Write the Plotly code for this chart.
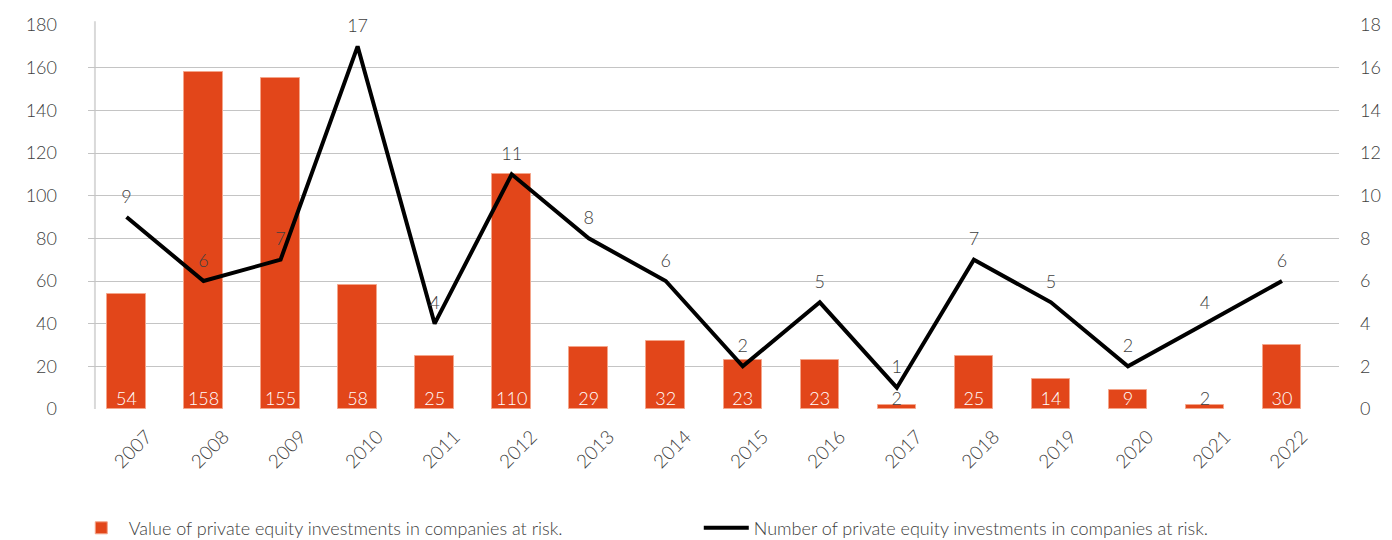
import plotly.graph_objects as go

years = ["2007", "2008", "2009", "2010", "2011", "2012", "2013", "2014",
         "2015", "2016", "2017", "2018", "2019", "2020", "2021", "2022"]
value_at_risk = [54, 158, 155, 58, 25, 110, 29, 32, 23, 23, 2, 25, 14, 9, 2, 30]
count_at_risk = [9, 6, 7, 17, 4, 11, 8, 6, 2, 5, 1, 7, 5, 2, 4, 6]

left_ticks = [0, 20, 40, 60, 80, 100, 120, 140, 160, 180]
right_ticks = [0, 2, 4, 6, 8, 10, 12, 14, 16, 18]

BAR = "#E2461A"
TEXT = "#404040"
FONT = "Lato"

x_idx = list(range(len(years)))

fig = go.Figure()

fig.add_trace(go.Bar(
    x=x_idx, y=value_at_risk, width=0.5,
    marker=dict(color=BAR, line=dict(color="#F4A58A", width=1)),
    name="Value of private equity investments in companies at risk.",
    hoverinfo="skip",
))

# value labels sitting at the bar base: white inside tall bars, dark above tiny ones
fig.add_trace(go.Scatter(
    x=x_idx, y=[0] * len(years), mode="text",
    text=[str(v) for v in value_at_risk], textposition="top center",
    textfont=dict(family=FONT, size=18, weight=300,
                  color=["white" if v > 5 else TEXT for v in value_at_risk]),
    showlegend=False, hoverinfo="skip", cliponaxis=False,
))

# count line; a transparent marker lifts the labels clear of the line
fig.add_trace(go.Scatter(
    x=x_idx, y=count_at_risk, yaxis="y2", mode="lines+markers+text",
    line=dict(color="black", width=4),
    marker=dict(size=14, color="rgba(0,0,0,0)"),
    text=[str(v) for v in count_at_risk], textposition="top center",
    textfont=dict(family=FONT, size=18, weight=300, color=TEXT),
    name="Number of private equity investments in companies at risk.",
    hoverinfo="skip", cliponaxis=False,
))

fig.update_layout(
    width=1392, height=540,
    margin=dict(l=88, r=53, t=25, b=131, autoexpand=False),
    paper_bgcolor="white", plot_bgcolor="white",
    font=dict(family=FONT, size=18, color=TEXT, weight=300),
    bargap=0,
    xaxis=dict(
        range=[-0.5, 15.74], tickmode="array", tickvals=x_idx, ticktext=years,
        tickangle=-45, showgrid=False, zeroline=False, showline=False,
        ticks="", tickfont=dict(size=19), ticklabelshift=20, ticklabelstandoff=12,
        automargin=False,
    ),
    yaxis=dict(
        range=[0, 180], tickvals=left_ticks, showgrid=True,
        gridcolor="#C4C4C4", gridwidth=1, zeroline=False, showline=False,
        ticks="", ticklabelstandoff=30, tickfont=dict(size=18), automargin=False,
    ),
    yaxis2=dict(
        range=[0, 18], tickvals=right_ticks, overlaying="y", side="right",
        showgrid=False, zeroline=False, showline=False, ticks="",
        ticklabelstandoff=20, tickfont=dict(size=18), automargin=False,
    ),
    legend=dict(
        orientation="h", x=0.053, xref="container", xanchor="left",
        y=0.022, yref="container", yanchor="middle", font=dict(size=18),
        entrywidth=565, itemwidth=45, traceorder="normal",
    ),
    showlegend=True,
)

# thin vertical axis rule at the left of the plot area
fig.add_shape(type="line", xref="x", yref="paper", x0=-0.41, x1=-0.41,
              y0=0, y1=1.01, line=dict(color="#D9D9D9", width=2), layer="below")

fig.write_html("out.html")
